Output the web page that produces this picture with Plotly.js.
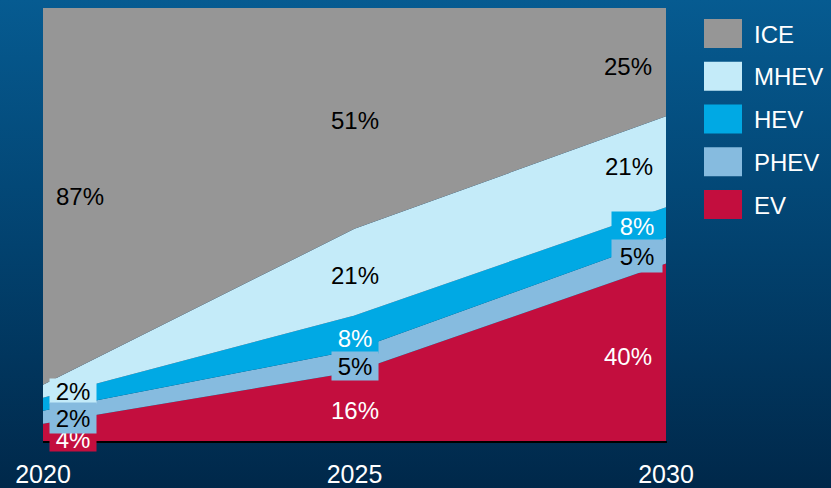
<!DOCTYPE html>
<html>
<head>
<meta charset="utf-8">
<script src="https://cdn.plot.ly/plotly-3.0.1.min.js"></script>
<style>
  html, body { margin: 0; padding: 0; }
  body { width: 831px; height: 488px; overflow: hidden;
         background: linear-gradient(to bottom, #065b91 0%, #02426f 50%, #00284a 100%); }
  #chart { width: 831px; height: 488px; }
</style>
</head>
<body>
<div id="chart"></div>
<script>
// ---- data ----
const years = [2020, 2025, 2030];
const tickLabels = ['2020', '2025', '2030'];
const seriesNames = ['EV', 'PHEV', 'HEV', 'MHEV', 'ICE'];   // bottom -> top
const ev   = [4, 16, 41];
const phev = [3, 5, 6];
const hev  = [3, 8, 7];
const mhev = [3, 20, 21];
const ice  = [87, 51, 25];
// printed labels (null = not printed)
const evLabels   = ['4%', '16%', '40%'];
const phevLabels = ['2%', '5%', '5%'];
const hevLabels  = [null, '8%', '8%'];
const mhevLabels = ['2%', '21%', '21%'];
const iceLabels  = ['87%', '51%', '25%'];

const colors = { EV: '#c30e3e', PHEV: '#86bbdf', HEV: '#00a9e4', MHEV: '#c4ebf9', ICE: '#969696' };
const FONT = 'Arial, "Liberation Sans", sans-serif';
const values = { EV: ev, PHEV: phev, HEV: hev, MHEV: mhev, ICE: ice };
const labels = { EV: evLabels, PHEV: phevLabels, HEV: hevLabels, MHEV: mhevLabels, ICE: iceLabels };

const traces = seriesNames.map(n => ({
  type: 'scatter', x: years, y: values[n], name: n,
  stackgroup: 'one', mode: 'none', fillcolor: colors[n],
  line: { width: 0 }, hoverinfo: 'skip'
}));

// stack midpoints
function mid(name, i) {
  let base = 0;
  for (const n of seriesNames) {
    if (n === name) return base + values[n][i] / 2;
    base += values[n][i];
  }
}

// label styling: [series, index, xshift, yshift, textColor, boxed, boxW, boxH]
const labelStyle = [
  ['ICE', 0, 37, 0, '#000', false],
  ['ICE', 1, 0, -2, '#000', false],
  ['ICE', 2, -38, -4, '#000', false],
  ['MHEV', 1, 0, -3, '#000', false],
  ['MHEV', 2, -37, -5, '#000', false],
  ['EV', 1, 0, -4, '#fff', false],
  ['EV', 2, -38, -4, '#fff', false],
  ['EV', 0, 30, -7, '#fff', true, 46, 24],
  ['HEV', 1, 0, -5, '#fff', true, 46, 30],
  ['PHEV', 1, 0, -5, '#000', true, 46, 28],
  ['HEV', 2, -29, -4, '#fff', true, 50, 28],
  ['PHEV', 2, -29, -6, '#000', true, 50, 32],
  ['MHEV', 0, 30, 0, '#000', true, 46, 24],
  ['PHEV', 0, 30, -1, '#000', true, 46, 30]
];

const annotations = labelStyle.filter(s => labels[s[0]][s[1]]).map(s => {
  const a = {
    x: years[s[1]], y: mid(s[0], s[1]), xref: 'x', yref: 'y',
    text: labels[s[0]][s[1]], showarrow: false,
    xanchor: 'center', yanchor: 'middle',
    xshift: s[2], yshift: s[3],
    font: { family: FONT, size: 24, color: s[4] }
  };
  if (s[5]) { a.bgcolor = colors[s[0]]; a.width = s[6]; a.height = s[7]; a.borderpad = 0; }
  return a;
});

// legend (manual, top -> bottom)
const L = 43, R = 666, T = 8, B = 441;
const pxX = p => (p - L) / (R - L);
const pxY = p => (B - p) / (B - T);
const legendOrder = ['ICE', 'MHEV', 'HEV', 'PHEV', 'EV'];
const shapes = [];
legendOrder.forEach((n, i) => {
  const top = 19 + 42.75 * i;
  shapes.push({ type: 'rect', xref: 'paper', yref: 'paper',
    x0: pxX(704), x1: pxX(742), y0: pxY(top + 29), y1: pxY(top),
    fillcolor: colors[n], line: { width: 0 } });
  annotations.push({ xref: 'paper', yref: 'paper', x: pxX(752), y: pxY(top + 15),
    xanchor: 'left', yanchor: 'middle', showarrow: false, text: n,
    font: { family: FONT, size: 24, color: '#ffffff' } });
});
// bottom shadow
shapes.push({ type: 'line', xref: 'paper', yref: 'paper', x0: 0, x1: pxX(667),
  y0: pxY(442), y1: pxY(442), line: { color: '#000000', width: 2 } });

const layout = {
  width: 831, height: 488,
  margin: { l: L, r: 831 - R, t: T, b: 488 - B, pad: 0 },
  paper_bgcolor: 'rgba(0,0,0,0)', plot_bgcolor: 'rgba(0,0,0,0)',
  showlegend: false,
  xaxis: { range: [2020, 2030], tickvals: years, ticktext: tickLabels,
    tickfont: { family: FONT, size: 25, color: '#ffffff' }, ticklabelstandoff: 16,
    showgrid: false, zeroline: false, showline: false, ticks: '', fixedrange: true },
  yaxis: { range: [0, 100], visible: false, showgrid: false, zeroline: false, fixedrange: true },
  annotations: annotations, shapes: shapes
};

Plotly.newPlot('chart', traces, layout, { staticPlot: true, displayModeBar: false });
</script>
</body>
</html>
